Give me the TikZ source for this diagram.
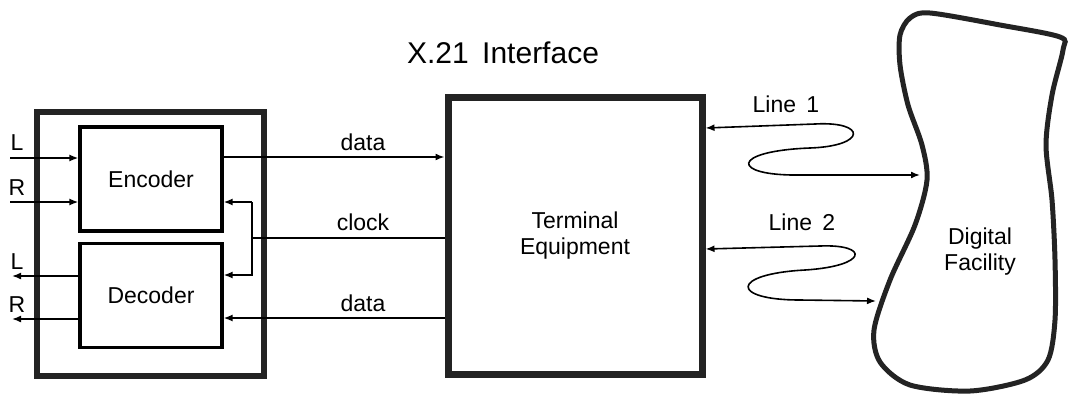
\documentclass[tikz,border=0pt]{standalone}
\usepackage{fontspec}
\setmainfont{Liberation Sans}
\usetikzlibrary{positioning, arrows.meta}
\definecolor{FrameGray}{RGB}{35,35,35}

\begin{document}
\begin{tikzpicture}[x=0.5pt, y=-0.5pt, font=\fontsize{11.5}{13}\selectfont,
    box/.style={draw, line width=1.6pt, minimum width=71pt, minimum height=52pt, inner sep=0pt},
    arr/.style={-{Latex[length=4.5pt,width=3.5pt]}, line width=0.8pt},
    twoway/.style={{Latex[length=4.5pt,width=3.5pt]}-{Latex[length=4.5pt,width=3.5pt]}, line width=0.8pt}]
    \useasboundingbox (0,0) rectangle (1070,397);

    % Codec unit
    \node[draw=FrameGray, line width=3.2pt, minimum width=113.5pt, minimum height=132pt] (codec) at (150.5,244) {};
    \node[box] (enc) at (151,179) {Encoder};
    \node[box] (dec) at (151,295.5) {Decoder};

    % Terminal equipment
    \node[draw=FrameGray, line width=3.5pt, minimum width=127pt, minimum height=138.5pt, align=center] (term) at (575,235.5) {Terminal\\Equipment};
    \node[font=\fontsize{15}{18}\selectfont] (title) at (503,53) {X.21\hspace{0.45em}Interface};

    % Audio in and out
    \coordinate (inL) at (10,158);
    \coordinate (inR) at (10,202);
    \coordinate (outL) at (12,276);
    \coordinate (outR) at (12,319);
    \draw[arr] (inL) -- (inL -| enc.west);
    \draw[arr] (inR) -- (inR -| enc.west);
    \draw[arr] (outL -| dec.west) -- (outL);
    \draw[arr] (outR -| dec.west) -- (outR);
    \node (labL1) at (17,143) {L};
    \node (labR1) at (17,188) {R};
    \node (labL2) at (17,262) {L};
    \node (labR2) at (17,305) {R};

    % Data and clock
    \coordinate (tx) at (300,157);
    \coordinate (rx) at (300,318);
    \coordinate (cmid) at (252,238);
    \coordinate (ctop) at (252,202);
    \coordinate (cbot) at (252,275);
    \draw[arr] (tx -| enc.east) -- (tx -| term.west);
    \draw[arr] (rx -| term.west) -- (rx -| dec.east);
    \draw[line width=0.8pt] (cmid -| term.west) -- (cmid);
    \draw[arr] (ctop) -- (ctop -| enc.east);
    \draw[arr] (ctop) -- (cbot) -- (cbot -| dec.east);
    \node (data1) at (363,142) {data};
    \node (clk) at (363,222) {clock};
    \node (data2) at (363,303) {data};

    % Digital facility
    \draw[FrameGray, line width=2.5pt] plot[smooth cycle, tension=0.5] coordinates {
      (930,13) (1000,25) (1060,37) (1063,50) (1052,95) (1046,145) (1052,200)
      (1055,260) (1055,320) (1048,360) (1025,380) (970,391) (910,385) (880,362)
      (874,330) (890,280) (915,225) (927,180) (922,145) (908,105) (900,65) (900,35) (910,18)};
    \node[align=center] (fac) at (980,252) {Digital\\Facility};

    % Lines 1 and 2
    \coordinate (in1) at (700,128);
    \coordinate (in2) at (700,249);
    \coordinate (fac1) at (920,175);
    \coordinate (fac2) at (876,301);
    \draw[twoway] (in1 -| term.east) -- (815,124) .. controls (867,121) and (867,146) .. (810,148)
      .. controls (730,151) and (730,176) .. (800,175) -- (fac1);
    \draw[twoway] (in2 -| term.east) -- (820,246) .. controls (870,244) and (868,266) .. (805,270)
      .. controls (730,274) and (730,300) .. (800,300) -- (fac2);
    \node (line1) at (786,104) {Line\hspace{0.45em}1};
    \node (line2) at (802,222) {Line\hspace{0.45em}2};
  \end{tikzpicture}
\end{document}
